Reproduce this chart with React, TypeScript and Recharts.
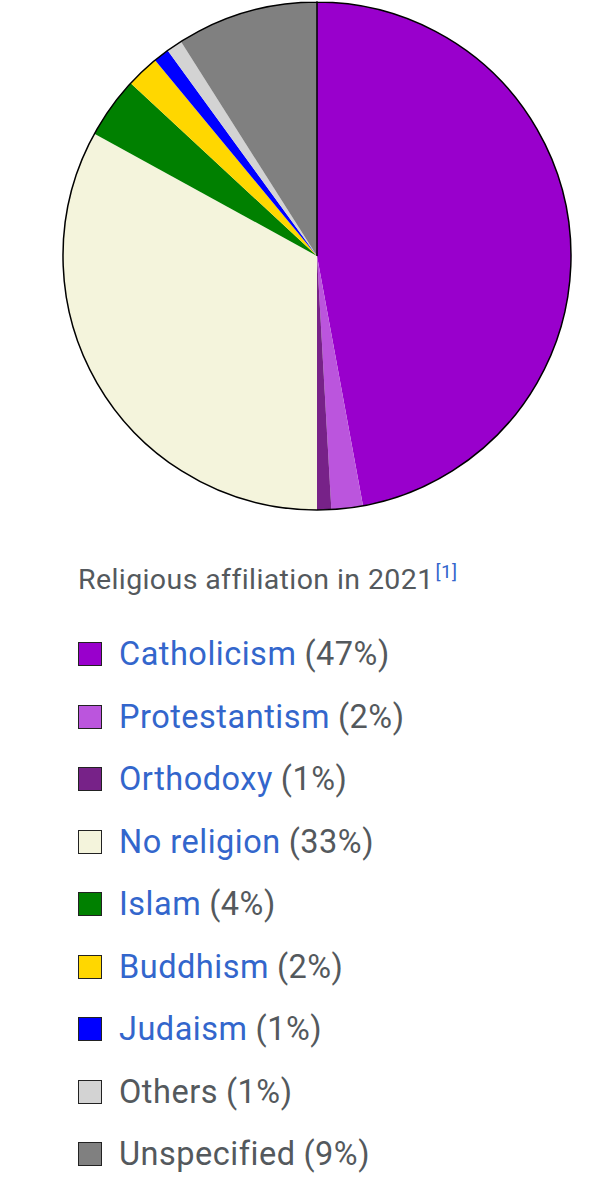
import { Legend, Pie, PieChart } from 'recharts'

const religions = ['Catholicism', 'Protestantism', 'Orthodoxy', 'No religion', 'Islam', 'Buddhism', 'Judaism', 'Others', 'Unspecified']
const shares = [47.1, 2.0, 0.9, 33.0, 3.9, 2.1, 1.0, 1.0, 9.0]
const labels = ['47%', '2%', '1%', '33%', '4%', '2%', '1%', '1%', '9%']
const linked = [true, true, true, true, true, true, true, false, false]
const colors = ['#9900cc', '#bb55dd', '#772288', '#f4f4dc', '#008000', '#ffd700', '#0000ff', '#d3d3d3', '#808080']

const data = religions.map((name, i) => ({
  name,
  value: shares[i],
  fill: colors[i],
  label: labels[i],
  link: linked[i],
}))

const FONT = 'Roboto, "Noto Sans", sans-serif'

function LegendBox() {
  return (
    <div style={{ fontFamily: FONT, color: '#54595d' }}>
      <div style={{ fontSize: 28.5, height: 62, lineHeight: '62px', letterSpacing: 0.4, marginTop: -4 }}>
        Religious affiliation in 2021
        <sup style={{ fontSize: 19, color: '#3366cc', marginLeft: 2 }}>[1]</sup>
      </div>
      <div style={{ height: 20 }} />
      {data.map((d) => (
        <div key={d.name} style={{ height: 62.5, display: 'flex', alignItems: 'center', fontSize: 32.5, letterSpacing: 0.5 }}>
          <span
            style={{
              display: 'inline-block',
              width: 22,
              height: 22,
              background: d.fill,
              border: '1.5px solid #222',
              marginRight: 17,
            }}
          />
          <span style={{ color: d.link ? '#3366cc' : '#54595d' }}>{d.name}</span>
          <span style={{ marginLeft: 8 }}>({d.label})</span>
        </div>
      ))}
    </div>
  )
}

export default function App() {
  return (
    <div style={{ position: 'absolute', left: 0, top: 0, width: 594, height: 1200, background: '#fff' }}>
      <PieChart width={594} height={1200} margin={{ top: 0, right: 0, bottom: 0, left: 0 }}>
        <Pie
          data={data}
          dataKey="value"
          nameKey="name"
          cx={317}
          cy={256}
          outerRadius={254}
          startAngle={90}
          endAngle={-270}
          stroke="none"
          isAnimationActive={false}
        />
        <Pie
          data={[{ name: 'outline', value: 1 }]}
          dataKey="value"
          cx={317}
          cy={256}
          outerRadius={254}
          startAngle={90}
          endAngle={-270}
          fill="none"
          stroke="#000"
          strokeWidth={1.5}
          isAnimationActive={false}
        />
        <Legend
          content={() => <LegendBox />}
          wrapperStyle={{ position: 'absolute', left: 78, top: 545, width: 510 }}
        />
      </PieChart>
    </div>
  )
}
